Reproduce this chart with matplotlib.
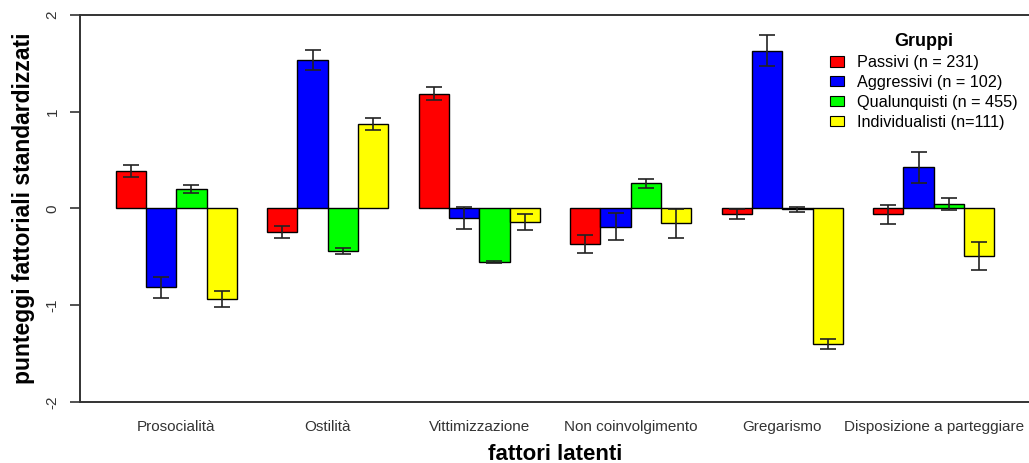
import numpy as np
import matplotlib
matplotlib.use('Agg')
import matplotlib.pyplot as plt
from matplotlib.patches import Patch

plt.rcParams['font.family'] = ['Liberation Sans', 'DejaVu Sans']

# fattori latenti (gruppi di barre)
fattori = ['Prosocialità', 'Ostilità', 'Vittimizzazione', 'Non coinvolgimento',
           'Gregarismo', 'Disposizione a parteggiare']
gruppi = ['Passivi (n = 231)', 'Aggressivi (n = 102)',
          'Qualunquisti (n = 455)', 'Individualisti (n=111)']
colori = ['#FF0000', '#0000FF', '#00FF00', '#FFFF00']

# medie dei punteggi fattoriali per gruppo
passivi = [0.39, -0.245, 1.185, -0.365, -0.06, -0.06]
aggressivi = [-0.815, 1.535, -0.095, -0.19, 1.63, 0.425]
qualunquisti = [0.205, -0.44, -0.555, 0.26, -0.01, 0.045]
individualisti = [-0.935, 0.875, -0.14, -0.155, -1.40, -0.49]

# errori standard
se_passivi = [0.06, 0.065, 0.068, 0.09, 0.05, 0.098]
se_aggressivi = [0.11, 0.107, 0.115, 0.14, 0.16, 0.158]
se_qualunquisti = [0.042, 0.03, 0.01, 0.048, 0.03, 0.065]
se_individualisti = [0.085, 0.065, 0.078, 0.145, 0.055, 0.147]

medie = [passivi, aggressivi, qualunquisti, individualisti]
errori = [se_passivi, se_aggressivi, se_qualunquisti, se_individualisti]

fig = plt.figure(figsize=(10.29, 4.63), dpi=100)
ax = fig.add_axes([0.0782, 0.1317, 0.9223, 0.836])

n_fatt = len(fattori)
for i in range(4):
    x = np.arange(n_fatt) * 5 + 1 + i + 0.5
    ax.bar(x, medie[i], width=1.0, color=colori[i], edgecolor='black',
           linewidth=1.0, label=gruppi[i], zorder=2)
    ax.errorbar(x, medie[i], yerr=errori[i], fmt='none', ecolor='#222222',
                elinewidth=1.2, capsize=6, capthick=1.2, zorder=3)

ax.set_xlim(-0.16, 31.16)
ax.set_ylim(-2, 2)
ax.set_yticks([-2, -1, 0, 1, 2])
ax.set_yticklabels(['-2', '-1', '0', '1', '2'], rotation=90, va='center',
                   fontsize=11, color='#333333')
ax.set_xticks(np.arange(n_fatt) * 5 + 3)
ax.set_xticklabels(fattori, fontsize=11, color='#333333')
ax.tick_params(axis='x', length=0, pad=13)
ax.tick_params(axis='y', length=7, width=1.2, color='#333333', pad=8)

for s in ['left', 'bottom', 'top']:
    ax.spines[s].set_linewidth(1.4)
    ax.spines[s].set_color('#333333')
ax.spines['right'].set_visible(False)

ax.set_xlabel('fattori latenti', fontsize=16, fontweight='bold', labelpad=7)
ax.set_ylabel('punteggi fattoriali standardizzati', fontsize=16.5,
              fontweight='bold', labelpad=8)

handles = [Patch(facecolor=c, edgecolor='black', linewidth=0.8) for c in colori]
leg = ax.legend(handles, gruppi, title='Gruppi', loc='upper right',
                bbox_to_anchor=(0.998, 0.978), frameon=False, fontsize=11.7,
                title_fontproperties={'weight': 'bold', 'size': 13},
                handlelength=0.9, handleheight=0.6, handletextpad=0.8,
                labelspacing=0.3, borderaxespad=0.2)

fig.savefig('out.png', dpi=100)
